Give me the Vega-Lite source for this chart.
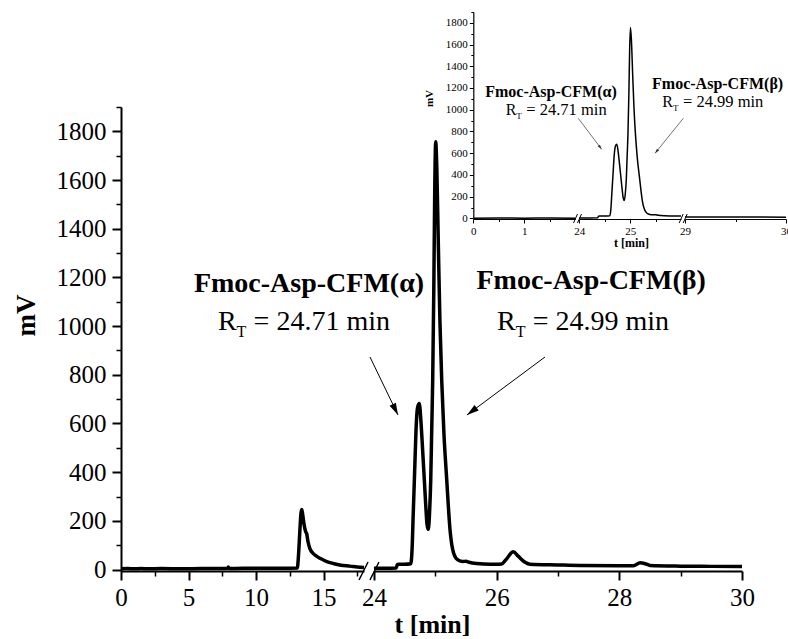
{
  "$schema": "https://vega.github.io/schema/vega-lite/v6.json",
  "width": 788,
  "height": 639,
  "autosize": "none",
  "padding": 0,
  "background": "white",
  "config": {
    "view": {"stroke": null},
    "axis": {"domainColor": "black", "tickColor": "black", "labelColor": "black", "titleColor": "black", "labelFont": "Liberation Serif", "titleFont": "Liberation Serif", "grid": false, "labelFlush": false, "labelOverlap": false},
    "text": {"font": "Liberation Serif", "color": "black"}
  },
  "datasets": {
    "trace": [
      {"t": 0, "mV": 3}, {"t": 0.5, "mV": 4}, {"t": 1.0, "mV": 3}, {"t": 1.5, "mV": 4}, {"t": 2.0, "mV": 3},
      {"t": 3, "mV": 4}, {"t": 4.5, "mV": 3}, {"t": 6, "mV": 4}, {"t": 7.5, "mV": 4}, {"t": 7.9, "mV": 5},
      {"t": 7.95, "mV": 10}, {"t": 8.0, "mV": 4}, {"t": 9, "mV": 5}, {"t": 10, "mV": 5}, {"t": 11, "mV": 5},
      {"t": 12, "mV": 5}, {"t": 13.06, "mV": 6}, {"t": 13.15, "mV": 60}, {"t": 13.25, "mV": 160}, {"t": 13.33, "mV": 230},
      {"t": 13.39, "mV": 247}, {"t": 13.46, "mV": 225}, {"t": 13.56, "mV": 185}, {"t": 13.68, "mV": 155}, {"t": 13.76, "mV": 146},
      {"t": 13.85, "mV": 115}, {"t": 14.0, "mV": 85}, {"t": 14.2, "mV": 68}, {"t": 14.45, "mV": 56}, {"t": 14.74, "mV": 46},
      {"t": 15.2, "mV": 34}, {"t": 15.73, "mV": 25}, {"t": 16.3, "mV": 18}, {"t": 16.96, "mV": 14}, {"t": 17.5, "mV": 10},
      {"t": 18.0, "mV": 8},
      {"t": 24.0, "mV": 5}, {"t": 24.2, "mV": 5}, {"t": 24.36, "mV": 6}, {"t": 24.38, "mV": 20}, {"t": 24.4, "mV": 22},
      {"t": 24.5, "mV": 22}, {"t": 24.6, "mV": 24}, {"t": 24.62, "mV": 80}, {"t": 24.64, "mV": 231}, {"t": 24.665, "mV": 420},
      {"t": 24.685, "mV": 573}, {"t": 24.71, "mV": 665}, {"t": 24.738, "mV": 682}, {"t": 24.765, "mV": 610}, {"t": 24.79, "mV": 504},
      {"t": 24.82, "mV": 370}, {"t": 24.845, "mV": 258}, {"t": 24.865, "mV": 185}, {"t": 24.885, "mV": 165}, {"t": 24.905, "mV": 230},
      {"t": 24.925, "mV": 368}, {"t": 24.94, "mV": 560}, {"t": 24.957, "mV": 778}, {"t": 24.975, "mV": 1150}, {"t": 24.99, "mV": 1550},
      {"t": 25.006, "mV": 1757}, {"t": 25.025, "mV": 1640}, {"t": 25.05, "mV": 1320}, {"t": 25.075, "mV": 1020}, {"t": 25.104, "mV": 778},
      {"t": 25.14, "mV": 560}, {"t": 25.186, "mV": 368}, {"t": 25.24, "mV": 162}, {"t": 25.3, "mV": 66}, {"t": 25.37, "mV": 39},
      {"t": 25.45, "mV": 33}, {"t": 25.5, "mV": 34}, {"t": 25.55, "mV": 30}, {"t": 25.67, "mV": 25}, {"t": 25.9, "mV": 22},
      {"t": 26.0, "mV": 22}, {"t": 26.08, "mV": 23}, {"t": 26.15, "mV": 40}, {"t": 26.27, "mV": 73}, {"t": 26.35, "mV": 55},
      {"t": 26.45, "mV": 32}, {"t": 26.54, "mV": 22}, {"t": 27.0, "mV": 19}, {"t": 27.36, "mV": 17}, {"t": 28.0, "mV": 16},
      {"t": 28.23, "mV": 16}, {"t": 28.34, "mV": 28}, {"t": 28.42, "mV": 24}, {"t": 28.5, "mV": 17}, {"t": 29.0, "mV": 14},
      {"t": 29.5, "mV": 13}, {"t": 30.0, "mV": 12}
    ],
    "notes": [
      {"panel": "main", "kind": "name", "label": "Fmoc-Asp-CFM(α)", "t": 22.94, "mV": 1173},
      {"panel": "main", "kind": "name", "label": "Fmoc-Asp-CFM(β)", "t": 27.54, "mV": 1185},
      {"panel": "main", "kind": "rt", "label": "= 24.71 min", "t": 21.76, "mV": 1017},
      {"panel": "main", "kind": "rt", "label": "= 24.99 min", "t": 26.31, "mV": 1017},
      {"panel": "inset", "kind": "name", "label": "Fmoc-Asp-CFM(α)", "t": 23.443, "mV": 1165},
      {"panel": "inset", "kind": "name", "label": "Fmoc-Asp-CFM(β)", "t": 26.72, "mV": 1239},
      {"panel": "inset", "kind": "rt", "label": "= 24.71 min", "t": 22.761, "mV": 998},
      {"panel": "inset", "kind": "rt", "label": "= 24.99 min", "t": 25.843, "mV": 1071}
    ],
    "arrows": [
      {"panel": "main", "peak": "α", "t": 23.935, "mV": 873, "t2": 24.391, "mV2": 635},
      {"panel": "main", "peak": "β", "t": 26.788, "mV": 873, "t2": 25.516, "mV2": 635},
      {"panel": "inset", "peak": "α", "t": 23.98, "mV": 921, "t2": 24.4405, "mV2": 636},
      {"panel": "inset", "peak": "β", "t": 26.045, "mV": 921, "t2": 25.489, "mV2": 599}
    ],
    "breaks": [
      {"panel": "main", "t": 17.63, "mV": -43, "t2": 18.30, "mV2": 31},
      {"panel": "main", "t": 18.44, "mV": -43, "t2": 19.11, "mV2": 31},
      {"panel": "inset1", "t": 1.965, "mV": -41.8, "t2": 2.043, "mV2": 41},
      {"panel": "inset1", "t": 2.043, "mV": -41.8, "t2": 2.122, "mV2": 41},
      {"panel": "inset2", "t": 28.9426, "mV": -41.8, "t2": 28.9822, "mV2": 41},
      {"panel": "inset2", "t": 28.9822, "mV": -41.8, "t2": 29.0218, "mV2": 41}
    ]
  },
  "layer": [
    {
      "data": {"name": "trace"},
      "transform": [{"filter": "datum.t <= 18"}],
      "mark": {"type": "line", "color": "black", "strokeWidth": 3.5, "interpolate": "monotone"},
      "encoding": {
        "x": {"field": "t", "type": "quantitative", "scale": {"domain": [0, 18], "range": [121, 364], "nice": false, "zero": false},
          "axis": {"orient": "bottom", "offset": -68, "values": [0, 5, 10, 15], "format": "d", "tickSize": 9, "tickWidth": 2, "domainWidth": 2, "labelFontSize": 25, "labelPadding": 5, "title": null}},
        "y": {"field": "mV", "type": "quantitative", "scale": {"domain": [-6, 1900], "range": [571, 107], "nice": false, "zero": false},
          "axis": {"orient": "left", "offset": -121, "values": [0, 200, 400, 600, 800, 1000, 1200, 1400, 1600, 1800], "format": "d", "tickSize": 9, "tickWidth": 2, "domainWidth": 2, "labelFontSize": 25, "labelPadding": 6,
            "title": "mV", "titleFontSize": 27, "titleFontWeight": "bold", "titleX": -95, "titleY": 315, "titleAngle": -90, "titleAlign": "center", "titleBaseline": "middle"}}
      }
    },
    {
      "data": {"name": "trace"},
      "transform": [{"filter": "datum.t >= 24"}],
      "mark": {"type": "line", "color": "black", "strokeWidth": 3.5, "interpolate": "monotone"},
      "encoding": {
        "x": {"field": "t", "type": "quantitative", "scale": {"domain": [24, 30], "range": [374, 742], "nice": false, "zero": false},
          "axis": {"orient": "bottom", "offset": -68, "values": [24, 26, 28, 30], "format": "d", "tickSize": 9, "tickWidth": 2, "domainWidth": 2, "labelFontSize": 25, "labelPadding": 5,
            "title": "t [min]", "titleFontSize": 26, "titleFontWeight": "bold", "titleX": 432, "titleY": 53, "titleAlign": "center", "titleBaseline": "middle"}},
        "y": {"field": "mV", "type": "quantitative", "scale": {"domain": [-6, 1900], "range": [571, 107], "nice": false, "zero": false}, "axis": null}
      }
    },
    {
      "data": {"name": "breaks"},
      "transform": [{"filter": "datum.panel === 'main'"}],
      "mark": {"type": "rule", "color": "black", "strokeWidth": 1.5},
      "encoding": {
        "x": {"field": "t", "type": "quantitative", "scale": {"domain": [0, 18], "range": [121, 364], "nice": false, "zero": false},
          "axis": {"orient": "bottom", "offset": -68, "values": [2.5, 7.5, 12.5, 17.5], "tickSize": 5, "tickWidth": 1.5, "domain": false, "labels": false, "title": null}},
        "x2": {"field": "t2"},
        "y": {"field": "mV", "type": "quantitative", "scale": {"domain": [-6, 1900], "range": [571, 107], "nice": false, "zero": false},
          "axis": {"orient": "left", "offset": -121, "values": [100, 300, 500, 700, 900, 1100, 1300, 1500, 1700, 1900], "tickSize": 5, "tickWidth": 1.5, "domain": false, "labels": false, "title": null}},
        "y2": {"field": "mV2"}
      }
    },
    {
      "data": {"name": "arrows"},
      "transform": [{"filter": "datum.panel === 'main'"}],
      "mark": {"type": "rule", "color": "black", "strokeWidth": 1},
      "encoding": {
        "x": {"field": "t", "type": "quantitative", "scale": {"domain": [24, 30], "range": [374, 742], "nice": false, "zero": false},
          "axis": {"orient": "bottom", "offset": -68, "values": [25, 27, 29], "tickSize": 5, "tickWidth": 1.5, "domain": false, "labels": false, "title": null}},
        "x2": {"field": "t2"},
        "y": {"field": "mV", "type": "quantitative", "scale": {"domain": [-6, 1900], "range": [571, 107], "nice": false, "zero": false}, "axis": null},
        "y2": {"field": "mV2"}
      }
    },
    {
      "data": {"name": "arrows"},
      "transform": [{"filter": "datum.panel === 'main' && datum.peak === 'α'"}],
      "mark": {"type": "point", "shape": "M0,0L0.7,2.4L-0.7,2.4Z", "filled": true, "color": "black", "size": 100, "angle": 154, "opacity": 1},
      "encoding": {
        "x": {"field": "t2", "type": "quantitative", "scale": {"domain": [24, 30], "range": [374, 742], "nice": false, "zero": false}, "axis": null},
        "y": {"field": "mV2", "type": "quantitative", "scale": {"domain": [-6, 1900], "range": [571, 107], "nice": false, "zero": false}, "axis": null}
      }
    },
    {
      "data": {"name": "arrows"},
      "transform": [{"filter": "datum.panel === 'main' && datum.peak === 'β'"}],
      "mark": {"type": "point", "shape": "M0,0L0.7,2.4L-0.7,2.4Z", "filled": true, "color": "black", "size": 100, "angle": 233.4, "opacity": 1},
      "encoding": {
        "x": {"field": "t2", "type": "quantitative", "scale": {"domain": [24, 30], "range": [374, 742], "nice": false, "zero": false}, "axis": null},
        "y": {"field": "mV2", "type": "quantitative", "scale": {"domain": [-6, 1900], "range": [571, 107], "nice": false, "zero": false}, "axis": null}
      }
    },
    {
      "data": {"name": "notes"},
      "transform": [{"filter": "datum.panel === 'main' && datum.kind === 'name'"}],
      "mark": {"type": "text", "fontSize": 28, "fontWeight": "bold", "align": "center", "baseline": "middle"},
      "encoding": {
        "x": {"field": "t", "type": "quantitative", "scale": {"domain": [24, 30], "range": [374, 742], "nice": false, "zero": false}, "axis": null},
        "y": {"field": "mV", "type": "quantitative", "scale": {"domain": [-6, 1900], "range": [571, 107], "nice": false, "zero": false}, "axis": null},
        "text": {"field": "label"}
      }
    },
    {
      "data": {"name": "notes"},
      "transform": [{"filter": "datum.panel === 'main' && datum.kind === 'rt'"}],
      "mark": {"type": "text", "text": "R", "fontSize": 28, "align": "right", "baseline": "middle"},
      "encoding": {
        "x": {"field": "t", "type": "quantitative", "scale": {"domain": [24, 30], "range": [374, 742], "nice": false, "zero": false}, "axis": null},
        "y": {"field": "mV", "type": "quantitative", "scale": {"domain": [-6, 1900], "range": [571, 107], "nice": false, "zero": false}, "axis": null}
      }
    },
    {
      "data": {"name": "notes"},
      "transform": [{"filter": "datum.panel === 'main' && datum.kind === 'rt'"}],
      "mark": {"type": "text", "text": "T", "fontSize": 16, "align": "left", "baseline": "middle", "dy": 10},
      "encoding": {
        "x": {"field": "t", "type": "quantitative", "scale": {"domain": [24, 30], "range": [374, 742], "nice": false, "zero": false}, "axis": null},
        "y": {"field": "mV", "type": "quantitative", "scale": {"domain": [-6, 1900], "range": [571, 107], "nice": false, "zero": false}, "axis": null}
      }
    },
    {
      "data": {"name": "notes"},
      "transform": [{"filter": "datum.panel === 'main' && datum.kind === 'rt'"}],
      "mark": {"type": "text", "fontSize": 28, "align": "left", "baseline": "middle", "dx": 17},
      "encoding": {
        "x": {"field": "t", "type": "quantitative", "scale": {"domain": [24, 30], "range": [374, 742], "nice": false, "zero": false}, "axis": null},
        "y": {"field": "mV", "type": "quantitative", "scale": {"domain": [-6, 1900], "range": [571, 107], "nice": false, "zero": false}, "axis": null},
        "text": {"field": "label"}
      }
    },
    {
      "data": {"name": "trace"},
      "transform": [{"filter": "datum.t <= 2"}],
      "mark": {"type": "line", "color": "black", "strokeWidth": 1.5, "interpolate": "monotone"},
      "encoding": {
        "x": {"field": "t", "type": "quantitative", "scale": {"domain": [0, 2], "range": [473.3, 575.3], "nice": false, "zero": false},
          "axis": {"orient": "bottom", "offset": -420, "values": [0, 1], "format": "d", "tickSize": 4, "tickWidth": 1, "domainWidth": 1.2, "labelFontSize": 11, "labelPadding": 2, "title": null}},
        "y": {"field": "mV", "type": "quantitative", "scale": {"domain": [-5, 1900], "range": [219, 11.9], "nice": false, "zero": false},
          "axis": {"orient": "left", "offset": -473.3, "values": [0, 200, 400, 600, 800, 1000, 1200, 1400, 1600, 1800], "format": "d", "tickSize": 4, "tickWidth": 1, "domainWidth": 1.2, "labelFontSize": 11, "labelPadding": 2,
            "title": "mV", "titleFontSize": 11, "titleFontWeight": "bold", "titleX": -44, "titleY": 98, "titleAngle": -90, "titleAlign": "center", "titleBaseline": "middle"}}
      }
    },
    {
      "data": {"name": "trace"},
      "transform": [{"filter": "datum.t >= 24 && datum.t <= 26"}],
      "mark": {"type": "line", "color": "black", "strokeWidth": 1.5, "interpolate": "monotone"},
      "encoding": {
        "x": {"field": "t", "type": "quantitative", "scale": {"domain": [24, 26], "range": [579.3, 681], "nice": false, "zero": false},
          "axis": {"orient": "bottom", "offset": -420, "values": [24, 25], "format": "d", "tickSize": 4, "tickWidth": 1, "domainWidth": 1.2, "labelFontSize": 11, "labelPadding": 2,
            "title": "t [min]", "titleFontSize": 12, "titleFontWeight": "bold", "titleX": 631, "titleY": 23, "titleAlign": "center", "titleBaseline": "middle"}},
        "y": {"field": "mV", "type": "quantitative", "scale": {"domain": [-5, 1900], "range": [219, 11.9], "nice": false, "zero": false}, "axis": null}
      }
    },
    {
      "data": {"name": "trace"},
      "transform": [{"filter": "datum.t >= 29"}],
      "mark": {"type": "line", "color": "black", "strokeWidth": 1.5, "interpolate": "monotone"},
      "encoding": {
        "x": {"field": "t", "type": "quantitative", "scale": {"domain": [29, 30], "range": [685, 786], "nice": false, "zero": false},
          "axis": {"orient": "bottom", "offset": -420, "values": [29, 30], "format": "d", "tickSize": 4, "tickWidth": 1, "domainWidth": 1.2, "labelFontSize": 11, "labelPadding": 2, "title": null}},
        "y": {"field": "mV", "type": "quantitative", "scale": {"domain": [-5, 1900], "range": [219, 11.9], "nice": false, "zero": false}, "axis": null}
      }
    },
    {
      "data": {"name": "breaks"},
      "transform": [{"filter": "datum.panel === 'inset1'"}],
      "mark": {"type": "rule", "color": "black", "strokeWidth": 1},
      "encoding": {
        "x": {"field": "t", "type": "quantitative", "scale": {"domain": [0, 2], "range": [473.3, 575.3], "nice": false, "zero": false},
          "axis": {"orient": "bottom", "offset": -420, "values": [0.5, 1.5], "tickSize": 2.5, "tickWidth": 1, "domain": false, "labels": false, "title": null}},
        "x2": {"field": "t2"},
        "y": {"field": "mV", "type": "quantitative", "scale": {"domain": [-5, 1900], "range": [219, 11.9], "nice": false, "zero": false},
          "axis": {"orient": "left", "offset": -473.3, "values": [100, 300, 500, 700, 900, 1100, 1300, 1500, 1700, 1900], "tickSize": 2.5, "tickWidth": 1, "domain": false, "labels": false, "title": null}},
        "y2": {"field": "mV2"}
      }
    },
    {
      "data": {"name": "breaks"},
      "transform": [{"filter": "datum.panel === 'inset2'"}],
      "mark": {"type": "rule", "color": "black", "strokeWidth": 1},
      "encoding": {
        "x": {"field": "t", "type": "quantitative", "scale": {"domain": [29, 30], "range": [685, 786], "nice": false, "zero": false},
          "axis": {"orient": "bottom", "offset": -420, "values": [29.5], "tickSize": 2.5, "tickWidth": 1, "domain": false, "labels": false, "title": null}},
        "x2": {"field": "t2"},
        "y": {"field": "mV", "type": "quantitative", "scale": {"domain": [-5, 1900], "range": [219, 11.9], "nice": false, "zero": false}, "axis": null},
        "y2": {"field": "mV2"}
      }
    },
    {
      "data": {"name": "arrows"},
      "transform": [{"filter": "datum.panel === 'inset'"}],
      "mark": {"type": "rule", "color": "#333333", "strokeWidth": 0.7},
      "encoding": {
        "x": {"field": "t", "type": "quantitative", "scale": {"domain": [24, 26], "range": [579.3, 681], "nice": false, "zero": false},
          "axis": {"orient": "bottom", "offset": -420, "values": [24.5, 25.5], "tickSize": 2.5, "tickWidth": 1, "domain": false, "labels": false, "title": null}},
        "x2": {"field": "t2"},
        "y": {"field": "mV", "type": "quantitative", "scale": {"domain": [-5, 1900], "range": [219, 11.9], "nice": false, "zero": false}, "axis": null},
        "y2": {"field": "mV2"}
      }
    },
    {
      "data": {"name": "arrows"},
      "transform": [{"filter": "datum.panel === 'inset' && datum.peak === 'α'"}],
      "mark": {"type": "point", "shape": "M0,0L0.7,2.4L-0.7,2.4Z", "filled": true, "color": "#333333", "size": 16, "angle": 143, "opacity": 1},
      "encoding": {
        "x": {"field": "t2", "type": "quantitative", "scale": {"domain": [24, 26], "range": [579.3, 681], "nice": false, "zero": false}, "axis": null},
        "y": {"field": "mV2", "type": "quantitative", "scale": {"domain": [-5, 1900], "range": [219, 11.9], "nice": false, "zero": false}, "axis": null}
      }
    },
    {
      "data": {"name": "arrows"},
      "transform": [{"filter": "datum.panel === 'inset' && datum.peak === 'β'"}],
      "mark": {"type": "point", "shape": "M0,0L0.7,2.4L-0.7,2.4Z", "filled": true, "color": "#333333", "size": 16, "angle": 219, "opacity": 1},
      "encoding": {
        "x": {"field": "t2", "type": "quantitative", "scale": {"domain": [24, 26], "range": [579.3, 681], "nice": false, "zero": false}, "axis": null},
        "y": {"field": "mV2", "type": "quantitative", "scale": {"domain": [-5, 1900], "range": [219, 11.9], "nice": false, "zero": false}, "axis": null}
      }
    },
    {
      "data": {"name": "notes"},
      "transform": [{"filter": "datum.panel === 'inset' && datum.kind === 'name'"}],
      "mark": {"type": "text", "fontSize": 16, "fontWeight": "bold", "align": "center", "baseline": "middle"},
      "encoding": {
        "x": {"field": "t", "type": "quantitative", "scale": {"domain": [24, 26], "range": [579.3, 681], "nice": false, "zero": false}, "axis": null},
        "y": {"field": "mV", "type": "quantitative", "scale": {"domain": [-5, 1900], "range": [219, 11.9], "nice": false, "zero": false}, "axis": null},
        "text": {"field": "label"}
      }
    },
    {
      "data": {"name": "notes"},
      "transform": [{"filter": "datum.panel === 'inset' && datum.kind === 'rt'"}],
      "mark": {"type": "text", "text": "R", "fontSize": 16, "align": "right", "baseline": "middle"},
      "encoding": {
        "x": {"field": "t", "type": "quantitative", "scale": {"domain": [24, 26], "range": [579.3, 681], "nice": false, "zero": false}, "axis": null},
        "y": {"field": "mV", "type": "quantitative", "scale": {"domain": [-5, 1900], "range": [219, 11.9], "nice": false, "zero": false}, "axis": null}
      }
    },
    {
      "data": {"name": "notes"},
      "transform": [{"filter": "datum.panel === 'inset' && datum.kind === 'rt'"}],
      "mark": {"type": "text", "text": "T", "fontSize": 9, "align": "left", "baseline": "middle", "dy": 6},
      "encoding": {
        "x": {"field": "t", "type": "quantitative", "scale": {"domain": [24, 26], "range": [579.3, 681], "nice": false, "zero": false}, "axis": null},
        "y": {"field": "mV", "type": "quantitative", "scale": {"domain": [-5, 1900], "range": [219, 11.9], "nice": false, "zero": false}, "axis": null}
      }
    },
    {
      "data": {"name": "notes"},
      "transform": [{"filter": "datum.panel === 'inset' && datum.kind === 'rt'"}],
      "mark": {"type": "text", "fontSize": 16.5, "align": "left", "baseline": "middle", "dx": 10},
      "encoding": {
        "x": {"field": "t", "type": "quantitative", "scale": {"domain": [24, 26], "range": [579.3, 681], "nice": false, "zero": false}, "axis": null},
        "y": {"field": "mV", "type": "quantitative", "scale": {"domain": [-5, 1900], "range": [219, 11.9], "nice": false, "zero": false}, "axis": null},
        "text": {"field": "label"}
      }
    }
  ],
  "resolve": {"scale": {"x": "independent", "y": "independent"}}
}
